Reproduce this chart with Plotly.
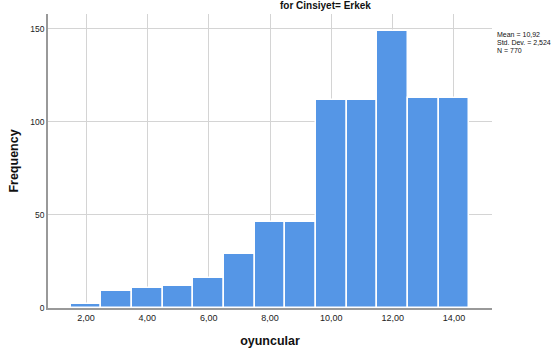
import plotly.graph_objects as go

bins = [2, 3, 4, 5, 6, 7, 8, 9, 10, 11, 12, 13, 14]
counts = [2, 9, 11, 12, 16, 29, 46, 46, 112, 112, 149, 113, 113]
xtick_vals = [2, 4, 6, 8, 10, 12, 14]
xtick_text = ["2,00", "4,00", "6,00", "8,00", "10,00", "12,00", "14,00"]
ytick_vals = [0, 50, 100, 150]
stats_lines = ["Mean = 10,92", "Std. Dev. = 2,524", "N = 770"]
title_text = "for Cinsiyet= Erkek"

W, H = 551, 358
L, R, T, B = 48, 59, 14, 50
ph = H - T - B
pw = W - L - R

fig = go.Figure()
fig.add_trace(go.Bar(
    x=bins, y=counts, width=1,
    marker=dict(color="#5596e6", line=dict(color="white", width=1.5)),
    showlegend=False,
))

font = "Arial, Liberation Sans, sans-serif"
ann = []
ann.append(dict(text="<b>" + title_text + "</b>", xref="paper", yref="paper",
                x=(325 - L) / pw, y=1 + (T - 5.5) / ph,
                xanchor="center", yanchor="middle", showarrow=False,
                font=dict(family=font, size=10, color="#111")))
for i, s in enumerate(stats_lines):
    ann.append(dict(text=s, xref="paper", yref="paper",
                    x=(495 - L) / pw, y=(H - B - (35 + 7.5 * i)) / ph,
                    xanchor="left", yanchor="middle", showarrow=False,
                    font=dict(family=font, size=7, color="#111")))

fig.update_layout(
    width=W, height=H,
    margin=dict(l=L, r=R, t=T, b=B, pad=0),
    paper_bgcolor="white", plot_bgcolor="white",
    bargap=0,
    font=dict(family=font, color="#222"),
    annotations=ann,
    xaxis=dict(range=[0.76, 15.24], tickvals=xtick_vals, ticktext=xtick_text,
               automargin=False,
               showgrid=True, gridcolor="#d4d4d4", gridwidth=1.3,
               showline=True, linecolor="#999999", linewidth=1.5,
               ticks="", tickfont=dict(size=9, color="#222"),
               title=dict(text="<b>oyuncular</b>", font=dict(size=12.5, color="#111"), standoff=15),
               zeroline=False),
    yaxis=dict(range=[0, 158], tickvals=ytick_vals,
               automargin=False,
               showgrid=True, gridcolor="#d4d4d4", gridwidth=1.3,
               showline=True, linecolor="#999999", linewidth=1.5,
               ticks="", tickfont=dict(size=8.5, color="#222"),
               title=dict(text="<b>Frequency</b>", font=dict(size=12.5, color="#111"), standoff=9),
               zeroline=False),
)

fig.write_html("out.html", config={"displayModeBar": False},
               post_script="document.body.style.margin='0';document.body.style.padding='0';")
